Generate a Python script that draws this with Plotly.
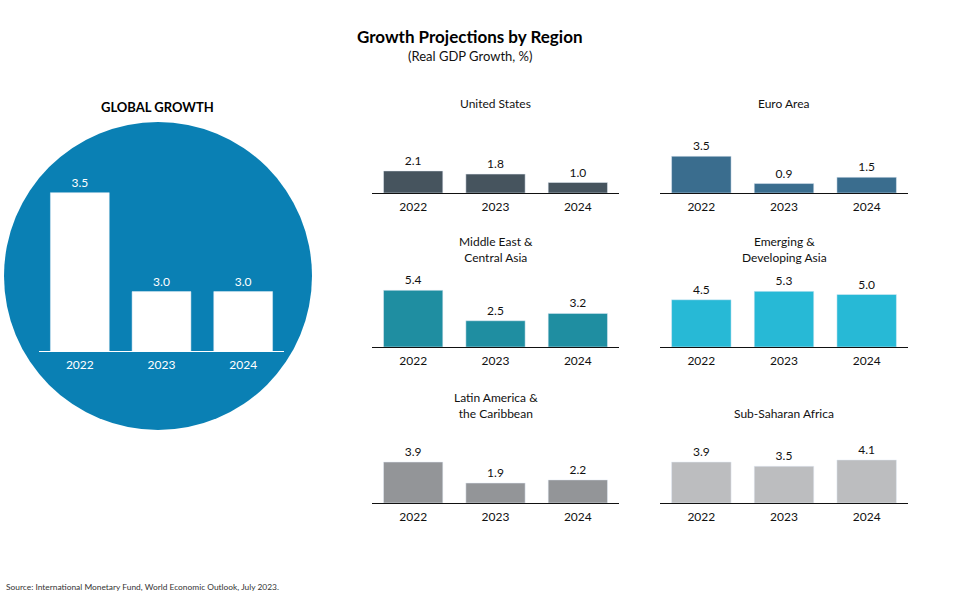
import plotly.graph_objects as go

W, H = 961, 595
FONT = "Lato"

years = ["2022", "2023", "2024"]
global_growth = [3.5, 3.0, 3.0]

regions = ["United States", "Euro Area",
           "Middle East &<br>Central Asia", "Emerging &<br>Developing Asia",
           "Latin America &<br>the Caribbean", "Sub-Saharan Africa"]
us = [2.1, 1.8, 1.0]
euro = [3.5, 0.9, 1.5]
mideast = [5.4, 2.5, 3.2]
asia = [4.5, 5.3, 5.0]
latam = [3.9, 1.9, 2.2]
ssa = [3.9, 3.5, 4.1]
region_values = [us, euro, mideast, asia, latam, ssa]
region_colors = ["#46545e", "#3a6d8e", "#1f8ea1", "#27b9d6", "#939598", "#bcbdbf"]


def fx(px):
    return px / W


def fy(py):
    return 1 - py / H


fig = go.Figure()

# global panel (white bars on a blue disc), axis doesn't start at zero
fig.add_trace(go.Bar(x=years, y=global_growth, marker_color="white",
                     text=["%.1f" % v for v in global_growth], textposition="outside",
                     textfont=dict(color="white", size=12, family=FONT),
                     cliponaxis=False, xaxis="x", yaxis="y", showlegend=False))
layout = dict(
    xaxis=dict(domain=[fx(39), fx(284)], anchor="y", showline=True, linecolor="white",
               linewidth=1, tickfont=dict(color="white", size=12, family=FONT),
               ticks="outside", ticklen=3, tickcolor="rgba(0,0,0,0)", showgrid=False, fixedrange=True),
    yaxis=dict(domain=[fy(351), fy(160)], anchor="x", range=[2.7, 3.665], visible=False,
               showgrid=False, fixedrange=True),
)

# six regional panels: (x0, x1, baseline)
panels = [(372, 619, 193), (660, 908, 193),
          (372, 619, 347), (660, 908, 347),
          (372, 619, 503), (660, 908, 503)]
ann = []
for i, (vals, col, name, (x0, x1, base)) in enumerate(zip(region_values, region_colors, regions, panels)):
    k = str(i + 2)
    fig.add_trace(go.Bar(x=years, y=vals, marker_color=col,
                         text=["%.1f" % v for v in vals], textposition="outside",
                         textfont=dict(color="#111", size=12, family=FONT),
                         cliponaxis=False, xaxis="x" + k, yaxis="y" + k, showlegend=False))
    layout["xaxis" + k] = dict(domain=[fx(x0), fx(x1)], anchor="y" + k, showline=True,
                               linecolor="#111", linewidth=1,
                               tickfont=dict(color="#111", size=12, family=FONT),
                               ticks="outside", ticklen=3, tickcolor="rgba(0,0,0,0)",
                               showgrid=False, fixedrange=True)
    layout["yaxis" + k] = dict(domain=[fy(base), fy(base - 68.25)], anchor="x" + k,
                               range=[0, 6.5], visible=False, showgrid=False, fixedrange=True)
    ann.append(dict(text=name, x=fx((x0 + x1) / 2), y=fy(base - 80), xref="paper", yref="paper",
                    xanchor="center", yanchor="bottom", showarrow=False,
                    font=dict(size=12, color="#111", family=FONT)))

ann += [
    dict(text="<b>Growth Projections by Region</b>", x=fx(470), y=fy(36), xref="paper", yref="paper",
         xanchor="center", yanchor="middle", showarrow=False, font=dict(size=17, color="#000", family=FONT)),
    dict(text="(Real GDP Growth, %)", x=fx(470), y=fy(56), xref="paper", yref="paper",
         xanchor="center", yanchor="middle", showarrow=False, font=dict(size=13, color="#111", family=FONT)),
    dict(text="<b>GLOBAL GROWTH</b>", x=fx(157), y=fy(107), xref="paper", yref="paper",
         xanchor="center", yanchor="middle", showarrow=False, font=dict(size=13, color="#000", family=FONT)),
    dict(text="Source: International Monetary Fund, World Economic Outlook, July 2023.",
         x=fx(4), y=fy(587), xref="paper", yref="paper", xanchor="left", yanchor="middle", showarrow=False,
         font=dict(size=8.4, color="#333", family=FONT)),
]

fig.update_layout(
    **layout,
    width=W, height=H, margin=dict(l=0, r=0, t=0, b=0),
    paper_bgcolor="white", plot_bgcolor="rgba(0,0,0,0)",
    bargap=0.28, annotations=ann,
    shapes=[dict(type="circle", xref="paper", yref="paper", layer="below",
                 x0=fx(4), x1=fx(312), y0=fy(430), y1=fy(122),
                 fillcolor="#0a80b4", line=dict(width=0))],
    font=dict(family=FONT),
)

# drop the page's default body margin so the figure sits at the window's corner
fig.write_html("out.html", post_script="document.body.style.margin='0';",
               config={"displayModeBar": False})
